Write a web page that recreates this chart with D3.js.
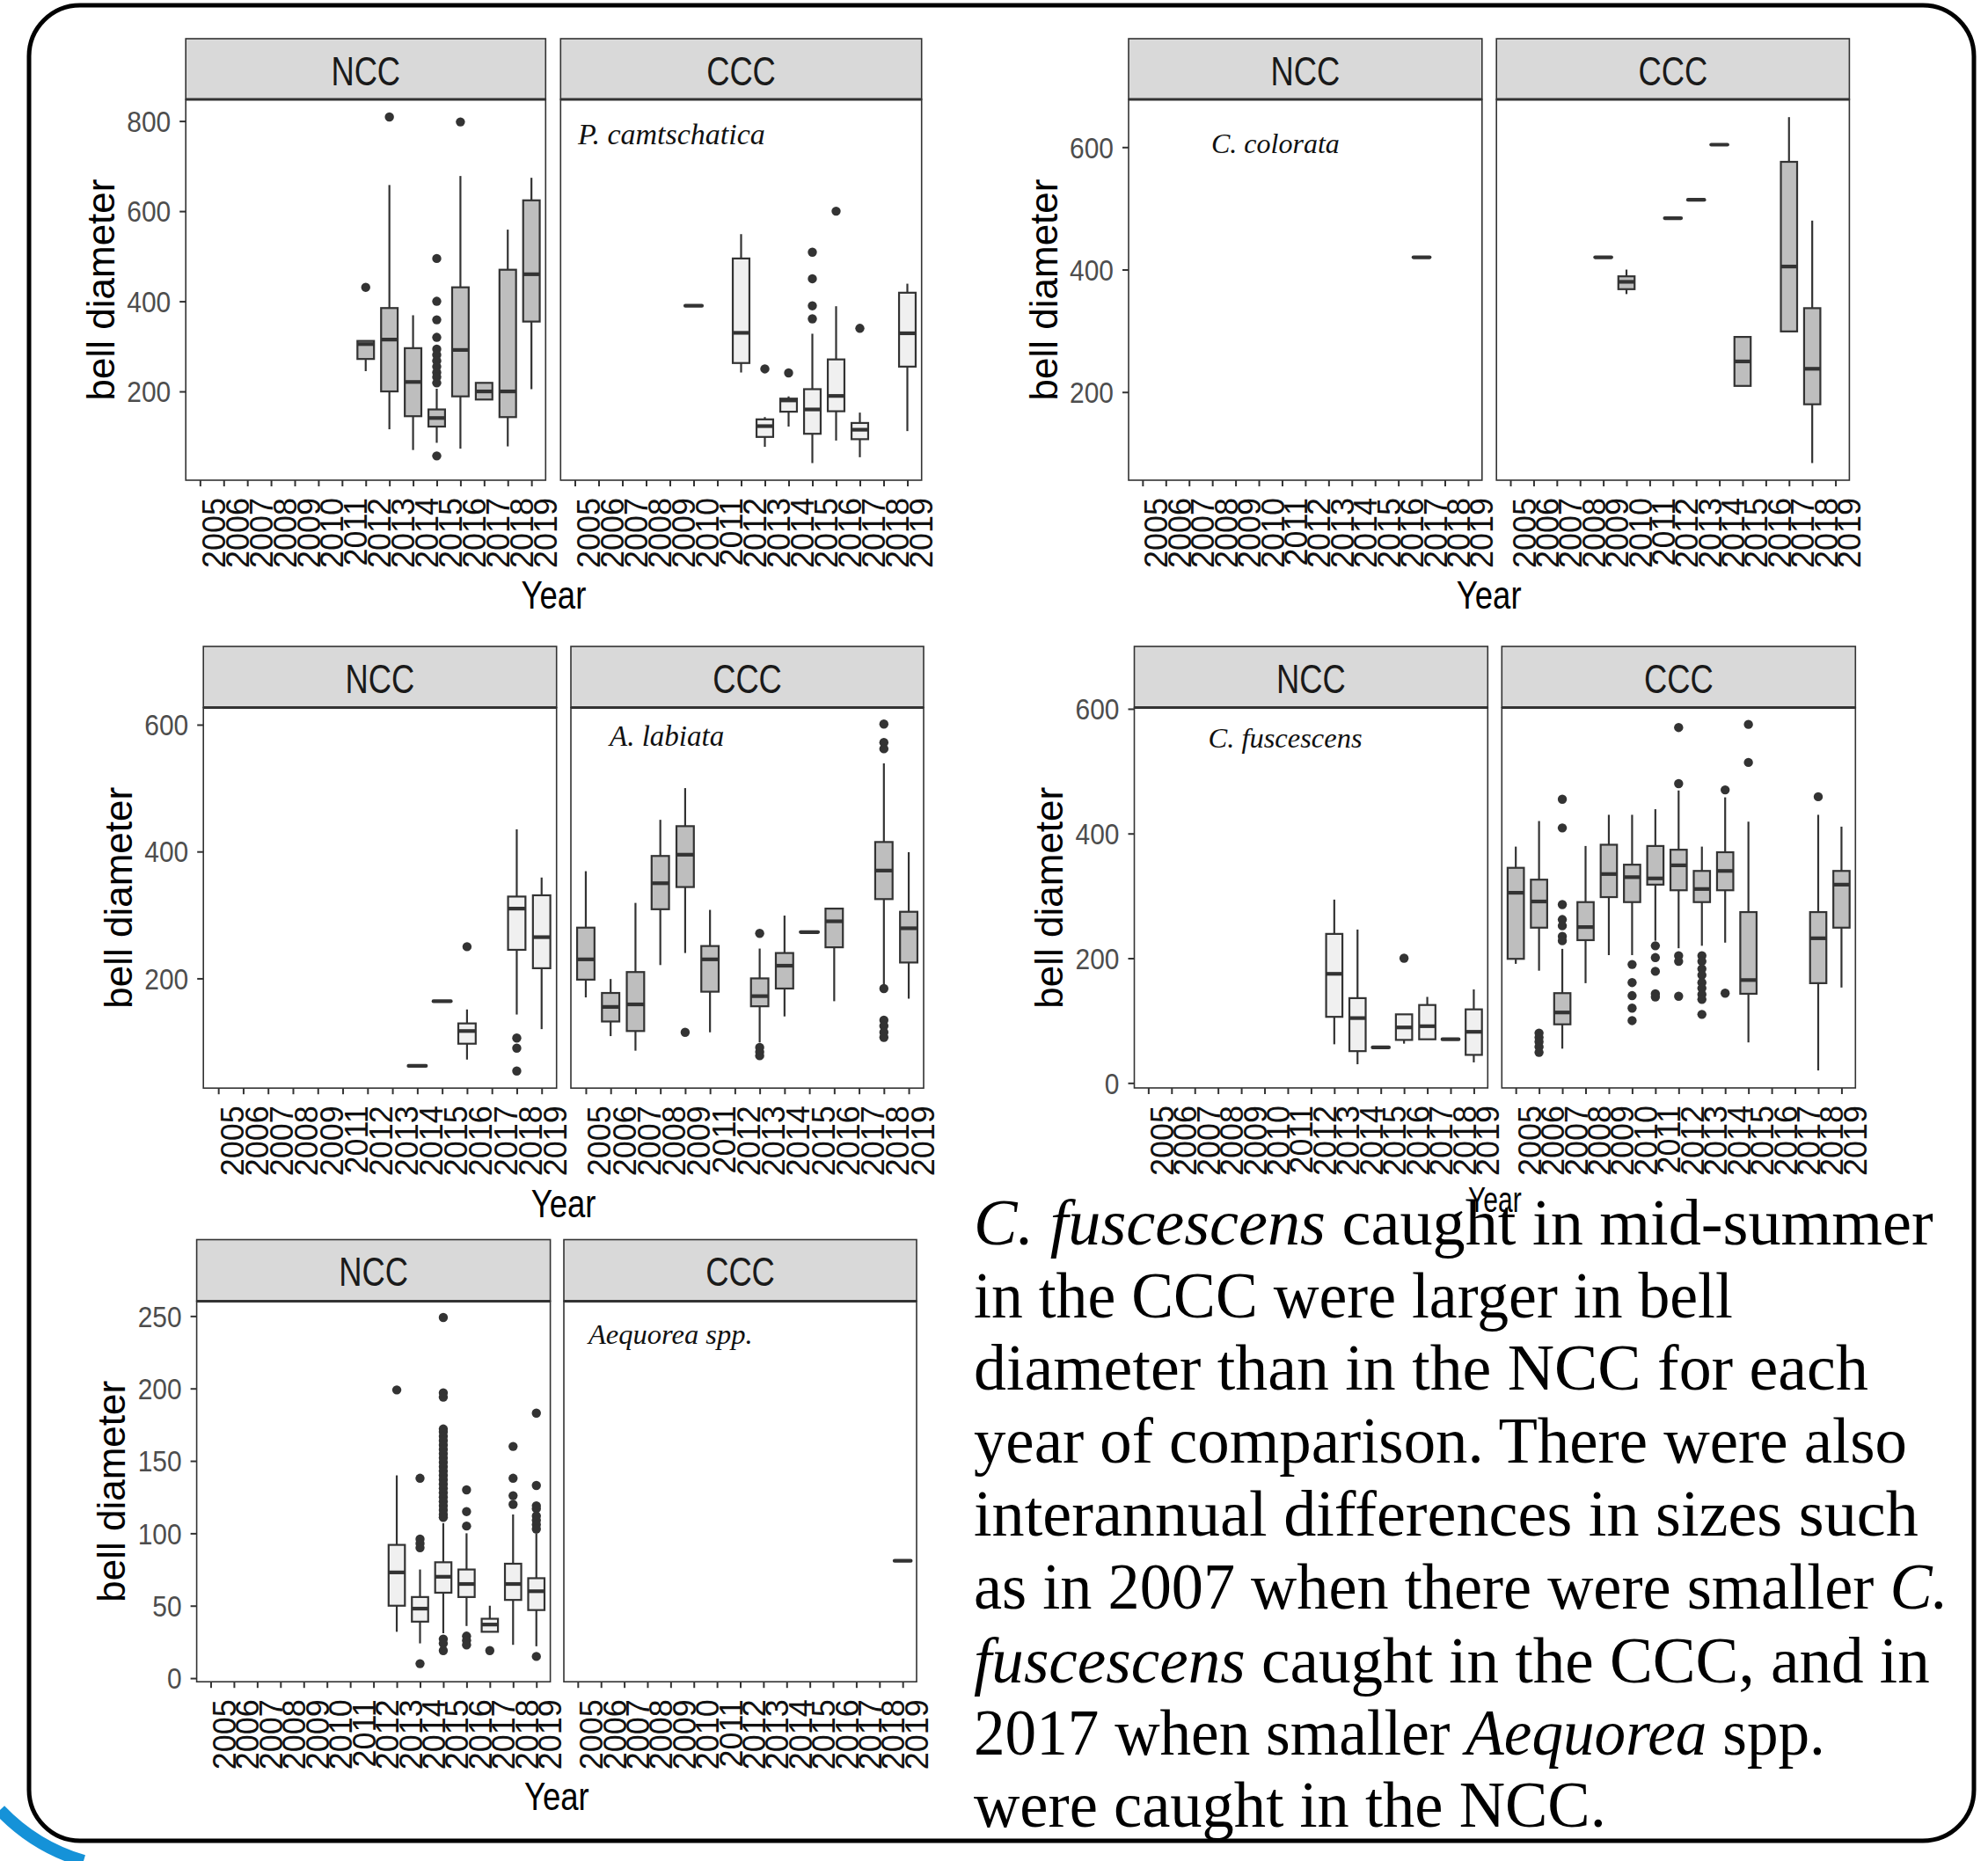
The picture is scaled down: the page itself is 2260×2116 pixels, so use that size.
<!DOCTYPE html>
<html><head><meta charset="utf-8">
<script src="https://cdn.jsdelivr.net/npm/d3@7"></script>
<style>html,body{margin:0;padding:0;background:#fff}svg{display:block}</style>
</head><body>
<svg id="chart" width="2260" height="2116"></svg>
<script>
// ---------------- DATA ----------------
const years = ["2005","2006","2007","2008","2009","2010","2011","2012","2013","2014","2015","2016","2017","2018","2019"];
const yearsLabiata = ["2005","2006","2007","2008","2009","2011","2012","2013","2014","2015","2016","2017","2018","2019"];
const regions = ["NCC","CCC"];
const xTitle = "Year";
const yTitle = "bell diameter";

// rows: [year, lower whisker, q1, median, q3, upper whisker, outliers]
const pcamNCC = [
  ["2012",245,272,305,312,312,[431]],
  ["2013",116,200,315,385,658,[809]],
  ["2014",70,145,221,296,369,[]],
  ["2015",86,122,141,160,206,[495,400,359,320,294,281,268,255,242,232,219,57]],
  ["2016",73,189,292,431,678,[798]],
  ["2017",182,182,200,219,219,[]],
  ["2018",78,143,200,470,559,[]],
  ["2019",205,355,460,624,674,[]]
];
const pcamCCC = [
  ["2010",390,390,390,390,390,[]],
  ["2012",242,263,330,495,549,[]],
  ["2013",77,99,123,138,143,[250]],
  ["2014",122,155,180,184,189,[241]],
  ["2015",41,106,160,205,328,[509,450,390,361]],
  ["2016",91,156,190,271,389,[600]],
  ["2017",54,94,115,130,153,[340]],
  ["2019",112,255,329,419,439,[]]
];
const ccolNCC = [
  ["2017",420,420,420,420,420,[]]
];
const ccolCCC = [
  ["2009",420,420,420,420,420,[]],
  ["2010",360,368,380,389,400,[]],
  ["2012",484,484,484,484,484,[]],
  ["2013",514,514,514,514,514,[]],
  ["2014",604,604,604,604,604,[]],
  ["2015",210,210,250,290,290,[]],
  ["2017",299,299,405,576,649,[]],
  ["2018",84,180,238,337,480,[]]
];
const alabNCC = [
  ["2014",62,62,62,62,62,[]],
  ["2015",164,164,164,164,164,[]],
  ["2016",72,97,117,129,151,[250]],
  ["2018",143,245,310,329,435,[106,90,54]],
  ["2019",120,216,265,331,359,[]]
];
const alabCCC = [
  ["2005",170,198,230,280,369,[]],
  ["2006",109,132,155,177,199,[]],
  ["2007",86,117,159,210,319,[]],
  ["2008",221,309,350,393,450,[]],
  ["2009",240,344,395,440,500,[115]],
  ["2011",115,179,230,251,308,[]],
  ["2013",99,156,172,200,247,[271,91,84,78]],
  ["2014",140,184,220,240,299,[]],
  ["2015",273,273,273,273,273,[]],
  ["2016",164,249,290,310,310,[]],
  ["2018",190,325,370,415,539,[601,572,562,184,134,125,115,107]],
  ["2019",168,225,279,305,399,[]]
];
const cfusNCC = [
  ["2013",62,106,175,239,294,[]],
  ["2014",30,51,104,136,246,[]],
  ["2015",57,57,57,57,57,[]],
  ["2016",63,69,89,110,110,[200]],
  ["2017",70,70,91,125,138,[]],
  ["2018",70,70,70,70,70,[]],
  ["2019",33,45,82,118,150,[]]
];
const cfusCCC = [
  ["2005",191,199,305,345,379,[]],
  ["2006",180,249,291,326,420,[80,73,66,58,49]],
  ["2007",55,94,113,144,215,[455,409,286,262,252,235,228]],
  ["2008",160,229,250,290,380,[]],
  ["2009",205,298,335,382,430,[]],
  ["2010",205,290,330,350,430,[190,161,140,120,100]],
  ["2011",228,318,328,380,439,[220,201,179,143,138]],
  ["2012",216,309,349,374,469,[570,480,204,195,139]],
  ["2013",220,290,311,340,379,[204,195,183,173,161,152,142,134,110]],
  ["2014",225,309,340,370,458,[470,144]],
  ["2015",65,143,165,274,419,[575,514]],
  ["2018",20,160,232,274,430,[459]],
  ["2019",153,249,318,340,411,[]]
];
const aequNCC = [
  ["2013",32,50,73,92,140,[199]],
  ["2014",24,39,48,56,75,[138,96,93,90,10]],
  ["2015",31,59,70,80,107,[249,197,194,172,170,167,164,161,158,155,152,149,146,143,140,137,134,131,128,125,122,119,116,113,111,27,24,19]],
  ["2016",36,56,65,75,100,[130,115,105,29,26,23]],
  ["2017",32,32,37,41,50,[19]],
  ["2018",23,54,65,79,113,[160,138,126,120]],
  ["2019",22,47,60,69,100,[183,133,119,117,112,109,106,103,15]]
];
const aequCCC = [
  ["2019",81,81,81,81,81,[]]
];
const ticksPcam = [200,400,600,800];
const ticksCcol = [200,400,600];
const ticksAlab = [200,400,600];
const ticksCfus = [0,200,400,600];
const ticksAequ = [0,50,100,150,200,250];
const speciesNames = ["P. camtschatica","C. colorata","A. labiata","C. fuscescens","Aequorea spp."];
const paragraph = [
  [["C. ",true],["fuscescens",true],[" caught in mid-summer",false]],
  [["in the CCC were larger in bell",false]],
  [["diameter than in the NCC for each",false]],
  [["year of comparison. There were also",false]],
  [["interannual differences in sizes such",false]],
  [["as in 2007 when there were smaller ",false],["C.",true]],
  [["fuscescens",true],[" caught in the CCC, and in",false]],
  [["2017 when smaller ",false],["Aequorea",true],[" spp.",false]],
  [["were caught in the NCC.",false]]
];

// ---------------- STYLE / LAYOUT ----------------
const GRAY = "#bebebe", LIGHT = "#f0f0f0", INK = "#333333";
const SANS = "'Liberation Sans', Arial, sans-serif";
const SERIF = "'Liberation Serif', 'Times New Roman', serif";

const layout = [
  {ncc:pcamNCC, ccc:pcamCCC, cats:years, ticks:ticksPcam, dom:[3,848], nccX:[211.2,620.3], cccX:[637.3,1047.7],
   stripTop:44, top:113, bottom:546, fills:[GRAY,LIGHT], sp:0, spPanel:1, spX:657, spY:164, spSize:34, titleY:692, titleSize:44, titleSx:0.83},
  {ncc:ccolNCC, ccc:ccolCCC, cats:years, ticks:ticksCcol, dom:[56,678], nccX:[1283,1684.8], cccX:[1701.2,2102.4],
   stripTop:44, top:113, bottom:546, fills:[GRAY,GRAY], sp:1, spPanel:0, spX:1377, spY:174, spSize:32, spSx:1, titleY:692, titleSize:44, titleSx:0.83},
  {ncc:alabNCC, ccc:alabCCC, cats:yearsLabiata, ticks:ticksAlab, dom:[27,627], nccX:[231.2,632.7], cccX:[649,1050],
   stripTop:735, top:804.5, bottom:1237.2, fills:[LIGHT,GRAY], sp:2, spPanel:1, spX:693, spY:848, spSize:33, titleY:1384, titleSize:44, titleSx:0.83},
  {ncc:cfusNCC, ccc:cfusCCC, cats:years, ticks:ticksCfus, dom:[-8,602], nccX:[1289.5,1691.3], cccX:[1707.3,2109.3],
   stripTop:735, top:804.5, bottom:1237, fills:[LIGHT,GRAY], sp:3, spPanel:0, spX:1373.5, spY:850, spSize:32.5, titleY:1378, titleSize:40, titleSx:0.75},
  {ncc:aequNCC, ccc:aequCCC, cats:years, ticks:ticksAequ, dom:[-2.5,260.3], nccX:[223.6,625.6], cccX:[641,1042],
   stripTop:1409.5, top:1479.4, bottom:1912.2, fills:[LIGHT,LIGHT], sp:4, spPanel:1, spX:669, spY:1528, spSize:32.5, titleY:2058, titleSize:44, titleSx:0.83}
];

const svg = d3.select("#chart");
svg.append("rect").attr("width",2260).attr("height",2116).attr("fill","#fff");

function addText(g, x, y, str, o) {
  let tr = `translate(${x},${y})`;
  if (o.rot) tr += ` rotate(${o.rot})`;
  if (o.sx) tr += ` scale(${o.sx},1)`;
  const t = g.append("text").attr("transform", tr)
    .attr("text-anchor", o.anchor || "start")
    .attr("font-family", o.family || SANS)
    .attr("font-size", o.size)
    .attr("fill", o.fill || "#000");
  if (o.italic) t.attr("font-style", "italic");
  if (o.dy) t.attr("dy", o.dy);
  t.text(str);
  return t;
}

function drawBoxes(g, rows, x, y, fill) {
  const bw = x.step() * 0.7;
  rows.forEach(r => {
    const [yr, lw, q1, med, q3, uw, out] = r;
    const cx = x(yr);
    if (uw > q3) g.append("line").attr("x1",cx).attr("x2",cx).attr("y1",y(q3)).attr("y2",y(uw)).attr("stroke",INK).attr("stroke-width",2.2);
    if (lw < q1) g.append("line").attr("x1",cx).attr("x2",cx).attr("y1",y(q1)).attr("y2",y(lw)).attr("stroke",INK).attr("stroke-width",2.2);
    if (q3 > q1) g.append("rect").attr("x",cx-bw/2).attr("y",y(q3)).attr("width",bw).attr("height",y(q1)-y(q3))
        .attr("fill",fill).attr("stroke",INK).attr("stroke-width",2.2);
    g.append("line").attr("x1",cx-bw/2).attr("x2",cx+bw/2).attr("y1",y(med)).attr("y2",y(med))
        .attr("stroke",INK).attr("stroke-width",4.2).attr("stroke-linecap", q3>q1 ? "butt" : "round");
    out.forEach(v => g.append("circle").attr("cx",cx).attr("cy",y(v)).attr("r",5.2).attr("fill",INK));
  });
}

layout.forEach(L => {
  const g = svg.append("g");
  const y = d3.scaleLinear().domain(L.dom).range([L.bottom, L.top]);
  const panels = [L.nccX, L.cccX];
  const data = [L.ncc, L.ccc];
  panels.forEach((px, i) => {
    const x = d3.scalePoint().domain(L.cats).range(px).padding(0.6);
    g.append("rect").attr("x",px[0]).attr("y",L.stripTop).attr("width",px[1]-px[0]).attr("height",L.top-L.stripTop)
      .attr("fill","#d9d9d9").attr("stroke",INK).attr("stroke-width",1.6);
    addText(g, (px[0]+px[1])/2, L.stripTop+52.7, regions[i], {size:46, anchor:"middle", sx:0.79, fill:"#1a1a1a"});
    g.append("rect").attr("x",px[0]).attr("y",L.top).attr("width",px[1]-px[0]).attr("height",L.bottom-L.top)
      .attr("fill","#fff").attr("stroke",INK).attr("stroke-width",1.6);
    g.append("line").attr("x1",px[0]).attr("x2",px[1]).attr("y1",L.top).attr("y2",L.top).attr("stroke",INK).attr("stroke-width",3);
    const xa = g.append("g").attr("transform",`translate(0,${L.bottom})`)
      .call(d3.axisBottom(x).tickSize(7).tickSizeOuter(0).tickFormat(""));
    xa.select(".domain").remove();
    xa.selectAll(".tick line").attr("stroke",INK).attr("stroke-width",2);
    L.cats.forEach(c => addText(g, x(c)+28.5, L.bottom+20, c, {size:36, rot:-90, anchor:"end", fill:"#111"}));
    drawBoxes(g.append("g"), data[i], x, y, L.fills[i]);
    if (L.spPanel === i) addText(g, L.spX, L.spY, speciesNames[L.sp], {size:L.spSize, family:SERIF, italic:true, sx:L.spSx||1, fill:"#111"});
  });
  const ya = g.append("g").attr("transform",`translate(${L.nccX[0]},0)`)
    .call(d3.axisLeft(y).tickValues(L.ticks).tickSize(7).tickFormat(""));
  ya.select(".domain").remove();
  ya.selectAll(".tick line").attr("stroke",INK).attr("stroke-width",2);
  L.ticks.forEach(t => addText(g, L.nccX[0]-17, y(t), String(t), {size:34, anchor:"end", sx:0.88, dy:"0.36em", fill:"#4d4d4d"}));
  addText(g, L.nccX[0]-81.5, (L.top+L.bottom)/2, yTitle, {size:44, rot:-90, anchor:"middle"});
  addText(g, (L.nccX[0]+L.cccX[1])/2, L.titleY, xTitle, {size:L.titleSize, anchor:"middle", sx:L.titleSx});
});

// paragraph
const paraX = 1107;
const paraBase = [1415,1497.5,1580,1663,1745.5,1829,1912.6,1995,2077];
const paraRight = [2198,1970,2124,2168,2181,2215,2194,2075,1826];
paragraph.forEach((segs, i) => {
  const t = svg.append("text").attr("font-family", SERIF).attr("font-size", 74).attr("fill","#000")
     .attr("transform", `translate(${paraX},${paraBase[i]})`);
  segs.forEach(s => t.append("tspan").attr("font-style", s[1] ? "italic" : "normal").text(s[0]));
  const w = t.node().getComputedTextLength();
  const s = (paraRight[i]-paraX)/w;
  t.attr("transform", `translate(${paraX},${paraBase[i]}) scale(${s},1)`);
});

// frame
svg.append("rect").attr("x",33).attr("y",6).attr("width",2211).attr("height",2087).attr("rx",58)
  .attr("fill","none").attr("stroke","#000").attr("stroke-width",5);
svg.append("path").attr("d","M0,2058 Q40,2100 95,2116").attr("fill","none").attr("stroke","#1592d8").attr("stroke-width",14);
</script>
</body></html>
